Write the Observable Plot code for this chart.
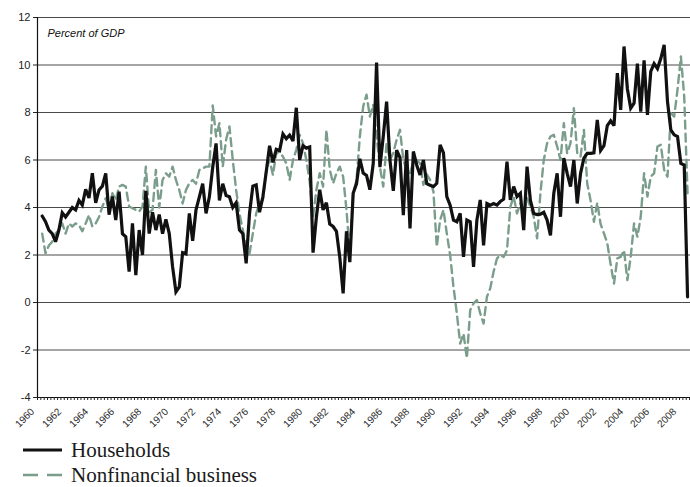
<!DOCTYPE html>
<html><head><meta charset="utf-8">
<script src="https://cdn.jsdelivr.net/npm/d3@7"></script>
<script src="https://cdn.jsdelivr.net/npm/@observablehq/plot@0.6"></script>
<style>
html,body{margin:0;padding:0;background:#fff}
body{width:690px;height:487px;overflow:hidden;position:relative;font-family:"Liberation Sans",Arial,sans-serif}
#chart{position:absolute;left:0;top:0}
#xlabels{position:absolute;left:0;top:0;width:0;height:0}
.xl{position:absolute;white-space:nowrap;font-family:"Liberation Sans",Arial,sans-serif;font-size:10px;line-height:10px;color:#2a2a2a;transform-origin:50% 50%;transform:translate(-50%,-50%) rotate(-45deg)}
#legend{position:absolute;left:0;top:437px;width:420px;font-family:"Liberation Serif","DejaVu Serif",serif;font-size:21px;color:#1a1a1a;white-space:nowrap}
.row{display:flex;align-items:center;height:25px}
.row span{line-height:16px}
.row svg{margin-left:23px;margin-right:9px;flex:none}
</style></head><body>
<div id="chart"></div>
<div id="xlabels"></div>
<div id="legend"></div>
<script>
// Quarterly data, percent of GDP (first quarter plotted at 1960.35, step 0.25 year)
const households = [
  3.64,3.4,3.05,2.9, 2.56,3.05,3.78,3.6, 3.8,4.0,3.9,4.3, 4.1,4.77,4.4,5.44,
  4.2,4.74,4.9,5.44, 3.7,4.46,3.47,4.67, 2.9,2.77,1.3,3.33, 1.15,3.05,2.0,4.7,
  2.9,3.8,3.05,3.7, 2.9,3.5,2.9,1.5, 0.45,0.66,2.1,2.05, 3.75,2.6,3.9,4.45,
  5.0,3.75,4.45,5.7, 6.7,4.3,5.0,4.5, 4.45,4.0,4.2,3.05, 2.9,1.65,3.75,4.9,
  4.95,3.8,4.45,
  5.5,6.6,5.9,6.45, 6.4,7.1,6.9,7.05, 6.8,8.2,6.0,6.6, 6.5,6.55,2.1,3.6,
  4.75,3.9,4.2,3.3, 3.2,3.0,1.9,0.38, 3.0,1.7,4.6,5.0, 6.05,5.45,5.35,4.75,
  5.85,10.1,5.7,
  6.99,8.46,6.0,4.7, 6.42,6.1,3.68,6.42, 3.12,6.36,5.79,5.37, 6.0,5.0,4.94,4.88,
  5.02,6.64,6.3,4.46, 4.1,3.47,3.4,3.75, 1.92,3.47,3.4,1.5, 3.47,4.32,2.41,4.17,
  4.1,4.17,4.1,4.25, 4.35,5.93,4.32,4.88, 4.46,4.6,3.05,5.72, 4.3,3.75,3.7,3.72,
  3.8,3.47,2.83,4.6, 5.44,3.61,6.08,5.44, 4.88,6.0,4.17,5.44, 6.08,6.28,6.28,6.3,
  7.69,6.4,6.6,7.45, 7.65,
  7.45,9.66,8.11,10.78, 9.0,8.18,8.39,10.06, 8.04,10.2,7.9,9.73, 10.06,9.85,10.27,10.85,
  8.46,7.27,7.06,6.99, 5.86,5.79,0.24
];
const nonfinancial = [
  2.9,2.07,2.4,2.56, 2.9,3.05,3.33,2.9, 3.33,3.2,3.33,3.26, 3.0,3.33,3.68,3.2,
  3.33,3.6,4.04,4.39, 3.9,4.6,4.32,4.88, 4.95,4.88,4.04,3.97, 3.9,3.83,4.04,5.72,
  3.8,3.9,5.58,4.0, 5.16,5.44,5.3,5.72, 5.16,4.74,4.17,4.74, 5.02,5.16,5.0,5.58,
  5.65,5.72,5.72,8.3, 6.99,7.55,5.72,6.85, 7.41,6.0,4.74,3.75, 3.05,2.34,2.06,2.91,
  3.75,4.17,4.32,
  5.58,6.0,5.37,6.28, 6.36,6.14,5.86,5.16, 6.0,6.43,7.06,6.71, 6.0,5.09,3.61,4.74,
  5.44,4.88,7.27,5.6, 5.02,5.44,5.72,5.3, 3.9,2.07,4.6,5.16, 6.99,8.26,8.75,7.83,
  8.33,7.0,5.72,
  4.88,6.71,6.0,6.3, 6.85,7.27,6.0,5.58, 5.44,5.93,6.0,5.86, 4.95,5.4,5.16,4.67,
  2.34,3.47,3.9,2.91, 2.0,0.66,-0.46,-1.73, -1.31,-2.35,-0.32,-0.04, 0.1,-0.46,-0.89,0.24,
  0.6,1.3,
  1.85,2.0,1.92,2.2, 4.03,4.46,3.75,4.17, 3.75,4.39,4.03,3.61, 2.7,4.6,6.0,6.71,
  6.99,7.06,6.57,6.0, 7.55,6.28,6.71,8.18, 6.3,6.14,7.27,5.0, 4.3,3.4,4.2,
  3.3,2.91,2.49,1.6, 0.8,1.86,1.92,2.2, 0.94,1.92,3.33,2.77, 3.61,5.44,4.46,5.3,
  5.44,6.57,6.64,5.58, 5.3,7.97,7.83,8.96, 10.36,8.68,4.6
];
const firstQuarter = 1960.35;
const quarterStep = 0.25;
const seriesNames = ["Households", "Nonfinancial business"];
const yTicks = [-4, -2, 0, 2, 4, 6, 8, 10, 12];
const yearTicks = d3.range(1960, 2009, 2);
const quarterTicks = d3.range(0, 196).map(i => 1960 + i * 0.25);
const unitLabel = "Percent of GDP";

const toRows = arr => arr.map((v, i) => ({t: firstQuarter + i * quarterStep, v}));
const hhRows = toRows(households);
const nfRows = toRows(nonfinancial);

const nfColor = "#7b9d8c";

const chart = Plot.plot({
  width: 690,
  height: 440,
  marginLeft: 37,
  marginRight: 0,
  marginTop: 17,
  marginBottom: 43,
  style: {fontFamily: "'Liberation Sans', Arial, sans-serif", fontSize: "11px", color: "#222", background: "#fff", overflow: "visible"},
  x: {domain: [1960, 2008.82]},
  y: {domain: [-4, 12]},
  marks: [
    Plot.ruleY(yTicks.filter(d => d > -4), {stroke: "#4a4a4a", strokeWidth: 1}),
    Plot.lineY(nfRows, {x: "t", y: "v", stroke: nfColor, strokeWidth: 2.4, strokeDasharray: "8,5"}),
    Plot.lineY(hhRows, {x: "t", y: "v", stroke: "#111", strokeWidth: 3.2, strokeLinejoin: "miter", strokeMiterlimit: 3}),
    Plot.ruleY([-4], {stroke: "#111", strokeWidth: 1}),
    Plot.ruleX([1960], {stroke: "#111", strokeWidth: 1.2}),
    Plot.axisY({ticks: yTicks, tickSize: 4, tickPadding: 3, fontSize: 11, label: null, tickFormat: d => String(d)}),
    Plot.axisX({ticks: quarterTicks, tickSize: 3, tickFormat: () => "", label: null}),
    Plot.text([unitLabel], {frameAnchor: "top-left", dx: 10, dy: 12, fontStyle: "italic", fontSize: 11, textAnchor: "start", fill: "#111"})
  ]
});
document.getElementById("chart").appendChild(chart);

// Year labels rotated -45deg about their centre, placed with the chart's x and y scales
const xs = chart.scale("x");
const ys = chart.scale("y");
const xl = document.getElementById("xlabels");
yearTicks.forEach(yr => {
  const el = document.createElement("div");
  el.className = "xl";
  el.textContent = String(yr);
  el.style.left = (xs.apply(yr) - 12) + "px";
  el.style.top = (ys.apply(-4) + 20.5) + "px";
  xl.appendChild(el);
});

// Legend
const legend = document.getElementById("legend");
seriesNames.forEach((name, i) => {
  const row = document.createElement("div");
  row.className = "row";
  const sw = i === 0
    ? `<svg width="39" height="10"><line x1="0" y1="5" x2="39" y2="5" stroke="#111" stroke-width="3"/></svg>`
    : `<svg width="39" height="10"><line x1="0" y1="5" x2="39" y2="5" stroke="${nfColor}" stroke-width="2.4" stroke-dasharray="15,9"/></svg>`;
  row.innerHTML = sw + `<span>${name}</span>`;
  legend.appendChild(row);
});
</script>
</body></html>
